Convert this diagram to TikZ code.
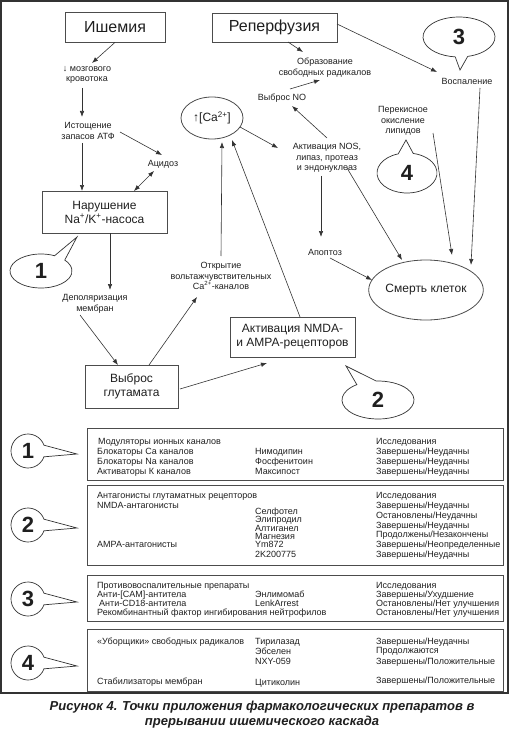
\documentclass[tikz,border=0pt]{standalone}
\usepackage{fontspec}
\setmainfont{Liberation Sans}
\usetikzlibrary{arrows.meta,shapes.geometric}
\definecolor{txt}{gray}{0.12}
\definecolor{linec}{gray}{0.2}
\definecolor{boxc}{gray}{0.3}
\begin{document}
\begin{tikzpicture}[x=1pt,y=1pt,
 every node/.style={inner sep=0pt,text=txt},
 tbox/.style={draw=boxc,line width=0.8pt,align=center,font=\fontsize{12}{14}\selectfont},
 ttl/.style={tbox,font=\fontsize{16}{18}\selectfont},
 ell/.style={ellipse,draw=boxc,line width=0.8pt,align=center,font=\fontsize{12}{14}\selectfont},
 lbl/.style={align=center,font=\fontsize{9}{10.5}\selectfont},
 arr/.style={draw=linec,line width=0.6pt,-{Latex[length=6pt,width=4.5pt]}},
 darr/.style={draw=linec,line width=0.6pt,{Latex[length=6pt,width=4.5pt]}-{Latex[length=6pt,width=4.5pt]}},
 call/.style={draw=linec,line width=0.7pt,fill=white},
 num/.style={font=\fontsize{22}{22}\selectfont\bfseries},
 tab/.style={anchor=base west,font=\fontsize{9}{10}\selectfont},
 tframe/.style={draw=boxc,line width=0.8pt},
 capt/.style={font=\fontsize{13}{15}\selectfont\bfseries\itshape,align=center}
]
\useasboundingbox (0,0) rectangle (510,-730);
\draw[draw=linec,line width=1.2pt] (1,-1) rectangle (508,-693);

% ---- main nodes
\node[ttl,minimum width=100pt,minimum height=30pt] (isch) at (115,-27) {Ишемия};
\node[ttl,minimum width=125pt,minimum height=29pt] (reperf) at (274.5,-27.5) {Реперфузия};
\node[lbl] (flow) at (87,-75) {↓ мозгового\\кровотока};
\node[lbl] (atp) at (88,-131) {Истощение\\запасов АТФ};
\node[lbl] (acid) at (163,-164) {Ацидоз};
\node[tbox,minimum width=125pt,minimum height=42pt] (pump) at (104.5,-212) {Нарушение\\Na\textsuperscript{+}/K\textsuperscript{+}-насоса};
\node[lbl] (depol) at (95,-304) {Деполяризация\\мембран};
\node[tbox,minimum width=93pt,minimum height=43pt] (glut) at (131.5,-386.5) {Выброс\\глутамата};
\node[lbl] (vcc) at (221,-276) {Открытие\\вольтажчувствительных\\Ca\textsuperscript{2+}-каналов};
\node[tbox,minimum width=125pt,minimum height=40pt] (nmda) at (292.5,-337) {Активация NMDA-\\и AMPA-рецепторов};
\node[ell,minimum width=62pt,minimum height=42pt] (ca) at (212,-118) {↑[Ca\textsuperscript{2+}]};
\node[lbl] (nos) at (327,-158) {Активация NOS,\\липаз, протеаз\\и эндонуклеаз};
\node[lbl] (no) at (282,-98) {Выброс NO};
\node[lbl] (rad) at (325,-67.5) {Образование\\свободных радикалов};
\node[lbl] (infl) at (467,-81) {Воспаление};
\node[lbl] (lip) at (403,-121) {Перекисное\\окисление\\липидов};
\node[lbl] (apo) at (325,-252) {Апоптоз};
\node[ell,minimum width=108pt,minimum height=60pt] (death) at (426,-290) {Смерть клеток};

% ---- connectors
\draw[arr] (isch.south) -- ([shift={(5,12)}]flow.center);
\draw[arr] ([shift={(-5,-13)}]flow.center) -- ([shift={(-6,14)}]atp.center);
\draw[arr] ([shift={(32,-1)}]atp.center) -- ([shift={(-1,9)}]acid.center);
\draw[darr] ([shift={(-9,-7)}]acid.center) -- ([shift={(29.5,21)}]pump.center);
\draw[arr] ([shift={(-6,-12)}]atp.center) -- ([shift={(-22.5,21)}]pump.center);
\draw[arr] ([shift={(5.5,-21)}]pump.center) -- ([shift={(15,14)}]depol.center);
\draw[arr] ([shift={(-15,-11)}]depol.center) -- ([shift={(-13.5,21.5)}]glut.center);
\draw[arr] ([shift={(17.5,21.5)}]glut.center) -- ([shift={(-24,-21)}]vcc.center);
\draw[arr] ([shift={(0,20)}]vcc.center) -- ([shift={(10,-24)}]ca.center);
\draw[arr] ([shift={(7.5,20)}]nmda.center) -- ([shift={(20,-22)}]ca.center);
\draw[arr] ([shift={(28,-9)}]ca.center) -- ([shift={(-49,10)}]nos.center);
\draw[arr] ([shift={(0,20)}]nos.center) -- ([shift={(10,-8)}]no.center);
\draw[arr] ([shift={(8,9)}]no.center) -- ([shift={(-5,-12.5)}]rad.center);
\draw[arr] ([shift={(13.5,-14.5)}]reperf.center) -- ([shift={(-22,15.5)}]rad.center);
\draw[arr] ([shift={(62.5,3.5)}]reperf.center) -- ([shift={(-30,9)}]infl.center);
\draw[arr] ([shift={(30,-12)}]lip.center) -- ([shift={(26,35)}]death.center);
\draw[arr] ([shift={(13,-7)}]infl.center) -- ([shift={(45,25)}]death.center);
\draw[arr] ([shift={(-6,-18)}]nos.center) -- ([shift={(-4,15)}]apo.center);
\draw[arr] ([shift={(20,-10)}]nos.center) -- ([shift={(-24,30)}]death.center);
\draw[arr] ([shift={(5,-6)}]apo.center) -- ([shift={(-54,10)}]death.center);
\draw[arr] ([shift={(48.5,-2.5)}]glut.center) -- ([shift={(-25.5,-26)}]nmda.center);

% ---- callouts in the scheme
\draw[call] (41,-271) ++(64:31pt and 17pt) arc[start angle=64,end angle=400,x radius=31pt,y radius=17pt] -- (77,-237) -- cycle;
\node[num] (k1) at (41,-271) {1};
\draw[call] (378,-400) ++(126:36pt and 19pt) arc[start angle=126,end angle=453,x radius=36pt,y radius=19pt] -- (346,-366) -- cycle;
\node[num] (k2) at (378,-400) {2};
\draw[call] (459,-37) ++(284:36pt and 20pt) arc[start angle=284,end angle=624,x radius=36pt,y radius=20pt] -- (460,-70) -- cycle;
\node[num] (k3) at (459,-37) {3};
\draw[call] (407,-173) ++(107:30pt and 20pt) arc[start angle=107,end angle=438,x radius=30pt,y radius=20pt] -- (406,-140) -- cycle;
\node[num] (k4) at (407,-173) {4};

% ---- table callouts
\draw[call] (28,-451) ++(20:17pt) arc[start angle=20,end angle=340,radius=17pt] -- (77,-454) -- cycle;
\node[num] (m1) at (28,-451) {1};
\draw[call] (28,-525) ++(20:17pt) arc[start angle=20,end angle=340,radius=17pt] -- (77,-528) -- cycle;
\node[num] (m2) at (28,-525) {2};
\draw[call] (28,-599) ++(20:17pt) arc[start angle=20,end angle=340,radius=17pt] -- (77,-602) -- cycle;
\node[num] (m3) at (28,-599) {3};
\draw[call] (28,-663) ++(20:17pt) arc[start angle=20,end angle=340,radius=17pt] -- (77,-666) -- cycle;
\node[num] (m4) at (28,-663) {4};

% ---- table frames
\draw[tframe] (87,-428) rectangle (503,-480);
\draw[tframe] (87,-485) rectangle (503,-565);
\draw[tframe] (87,-575) rectangle (503,-621);
\draw[tframe] (87,-629) rectangle (503,-691);

% ---- table 1
\node[tab] (a1) at (98,-444) {Модуляторы ионных каналов};
\node[tab] (a2) at (376,-444) {Исследования};
\node[tab] (a3) at (97,-454) {Блокаторы Ca каналов};
\node[tab] (a4) at (255,-454) {Нимодипин};
\node[tab] (a5) at (376,-454) {Завершены/Неудачны};
\node[tab] (a6) at (97,-464) {Блокаторы Na каналов};
\node[tab] (a7) at (255,-464) {Фосфенитоин};
\node[tab] (a8) at (376,-464) {Завершены/Неудачны};
\node[tab] (a9) at (97,-474) {Активаторы К каналов};
\node[tab] (a10) at (255,-474) {Максипост};
\node[tab] (a11) at (376,-474) {Завершены/Неудачны};

% ---- table 2
\node[tab] (b1) at (97,-498) {Антагонисты глутаматных рецепторов};
\node[tab] (b2) at (376,-498) {Исследования};
\node[tab] (b3) at (97,-508) {NMDA-антагонисты};
\node[tab] (b4) at (376,-508) {Завершены/Неудачны};
\node[tab] (b5) at (255,-514) {Селфотел};
\node[tab] (b6) at (255,-522.5) {Элипродил};
\node[tab] (b7) at (376,-518) {Остановлены/Неудачны};
\node[tab] (b8) at (255,-531) {Алтиганел};
\node[tab] (b9) at (376,-528) {Завершены/Неудачны};
\node[tab] (b10) at (255,-539.5) {Магнезия};
\node[tab] (b11) at (376,-537.5) {Продолжены/Незакончены};
\node[tab] (b12) at (97,-547.5) {AMPA-антагонисты};
\node[tab] (b13) at (255,-547.5) {Ym872};
\node[tab] (b14) at (376,-547.5) {Завершены/Неопределенные};
\node[tab] (b15) at (255,-557) {2K200775};
\node[tab] (b16) at (376,-557) {Завершены/Неудачны};

% ---- table 3
\node[tab] (c1) at (97,-588) {Противовоспалительные препараты};
\node[tab] (c2) at (376,-588) {Исследования};
\node[tab] (c3) at (97,-597) {Анти-[CAM]-антитела};
\node[tab] (c4) at (255,-597) {Энлимомаб};
\node[tab] (c5) at (376,-597) {Завершены/Ухудшение};
\node[tab] (c6) at (99,-606) {Анти-CD18-антитела};
\node[tab] (c7) at (255,-606) {LenkArrest};
\node[tab] (c8) at (376,-606) {Остановлены/Нет улучшения};
\node[tab] (c9) at (97,-615) {Рекомбинантный фактор ингибирования нейтрофилов};
\node[tab] (c10) at (376,-615) {Остановлены/Нет улучшения};

% ---- table 4
\node[tab] (d1) at (97,-644) {«Уборщики» свободных радикалов};
\node[tab] (d2) at (255,-644) {Тирилазад};
\node[tab] (d3) at (376,-644) {Завершены/Неудачны};
\node[tab] (d4) at (255,-654) {Эбселен};
\node[tab] (d5) at (376,-653) {Продолжаются};
\node[tab] (d6) at (255,-664) {NXY-059};
\node[tab] (d7) at (376,-664) {Завершены/Положительные};
\node[tab] (d8) at (97,-684) {Стабилизаторы мембран};
\node[tab] (d9) at (255,-685) {Цитиколин};
\node[tab] (d10) at (376,-683) {Завершены/Положительные};

% ---- caption
\node[capt] (cap) at (262,-714.5) {Рисунок 4. Точки приложения фармакологических препаратов в\\прерывании ишемического каскада};
\end{tikzpicture}
\end{document}
